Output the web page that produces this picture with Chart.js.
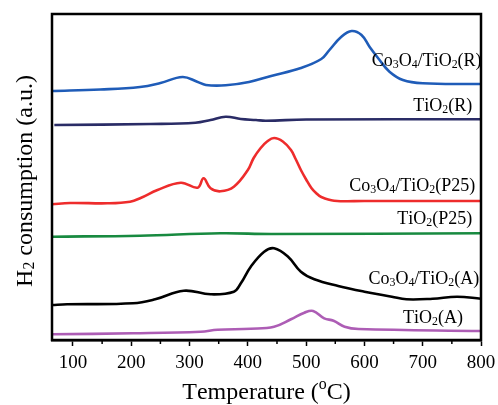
<!DOCTYPE html>
<html>
<head>
<meta charset="utf-8">
<script src="https://cdn.jsdelivr.net/npm/chart.js@4/dist/chart.umd.min.js"></script>
<style>
  body { margin: 0; background: #fff; }
  canvas { display: block; }
</style>
</head>
<body>
<canvas id="tpr" width="498" height="405"></canvas>
<script>
// tick values on the temperature axis
const majorTicks = [100, 200, 300, 400, 500, 600, 700, 800];
const minorTicks = [150, 250, 350, 450, 550, 650, 750];

// Co3O4/TiO2(R)
const tCoR = [64, 147, 215, 250, 288, 313, 328, 362, 402, 440, 491, 526, 540, 560, 578, 595, 609, 626, 643, 666, 700, 800];
const vCoR = [249, 250.5, 253, 257, 263, 258.3, 255, 254.7, 258, 264, 272, 281, 290, 303, 309, 305, 293, 280, 268.3, 260, 256.7, 256];
// TiO2(R)
const tTiR = [68, 233, 310, 336, 362, 388, 414, 431, 500, 800];
const vTiR = [215, 216, 217.3, 220, 223.3, 221, 220, 219.3, 220.5, 220.7];
// Co3O4/TiO2(P25)
const tCoP = [64, 95, 159, 198, 216, 245, 285, 314, 324, 336, 353, 376, 400, 410, 422, 433, 445, 460, 474, 482, 491, 500, 509, 517, 526, 548, 600, 800];
const vCoP = [135.7, 137, 136.7, 138.3, 142, 150, 157.3, 152.3, 161.7, 151.7, 148.7, 153.3, 170, 182, 192, 198.5, 202, 198.5, 190, 181, 170, 160.5, 152, 147, 143, 139.3, 139, 139];
// TiO2(P25)
const tTiP = [64, 215, 353, 440, 800];
const vTiP = [103.3, 104.3, 106.7, 106, 106.7];
// Co3O4/TiO2(A)
const tCoA = [64, 90, 203, 241, 290, 336, 376, 388, 405, 428, 445, 469, 491, 514, 555, 600, 647, 672, 717, 759, 800];
const vCoA = [35, 35.7, 36.7, 40.7, 49.3, 45.7, 48.3, 56.7, 73.3, 88.3, 91.7, 83.3, 68.3, 60.7, 54, 48.3, 43.3, 40.7, 41.3, 43.3, 41.3];
// TiO2(A)
const tTiA = [64, 203, 319, 348, 405, 445, 474, 497, 512, 531, 547, 566, 590, 800];
const vTiA = [5.7, 6.7, 8.3, 10.2, 11.3, 13.3, 20.7, 27.3, 29, 21.7, 19.3, 13.3, 11, 9];

const seriesNames = ['Co_3O_4/TiO_2(R)', 'TiO_2(R)', 'Co_3O_4/TiO_2(P25)', 'TiO_2(P25)', 'Co_3O_4/TiO_2(A)', 'TiO_2(A)'];

// where each name is written (right end, vertical middle) in data units
const labelSpots = [[801, 280], [785, 235], [790, 155], [785, 122], [797, 62], [769, 23]];
const colors = ['#1f5cb8', '#2a2c66', '#ee2c2c', '#188a40', '#000000', '#ad5db5'];

const SERIF = '"Liberation Serif", "DejaVu Serif", serif';

function pts(t, v) { return t.map((x, i) => ({ x: x, y: v[i] })); }

// text with _x subscript and ^x superscript
function drawRich(ctx, str, x, y, size, align) {
    const segs = [];
    for (let i = 0; i < str.length; i++) {
        const c = str[i];
        if ((c === '_' || c === '^') && i + 1 < str.length) {
            segs.push({ t: str[i + 1], mode: c });
            i++;
        } else {
            segs.push({ t: c, mode: '' });
        }
    }
    let w = 0;
    segs.forEach(s => {
        const sz = s.mode ? size * 0.66 : size;
        ctx.font = sz + 'px ' + SERIF;
        s.w = ctx.measureText(s.t).width;
        s.sz = sz;
        w += s.w;
    });
    let cx = align === 'right' ? x - w : align === 'center' ? x - w / 2 : x;
    ctx.textBaseline = 'alphabetic';
    ctx.textAlign = 'left';
    segs.forEach(s => {
        ctx.font = s.sz + 'px ' + SERIF;
        let dy = 0;
        if (s.mode === '_') dy = size * 0.1;
        if (s.mode === '^') dy = -size * 0.42;
        ctx.fillText(s.t, cx, y + dy);
        cx += s.w;
    });
}

const decor = {
    id: 'decor',
    afterDraw(chart) {
        const ctx = chart.ctx;
        const a = chart.chartArea;
        const xs = chart.scales.x;
        const ys = chart.scales.y;
        ctx.save();
        ctx.strokeStyle = '#000';
        ctx.lineWidth = 2.5;
        ctx.strokeRect(a.left, a.top, a.right - a.left, a.bottom - a.top);
        ctx.lineWidth = 1.5;
        minorTicks.forEach(v => {
            const px = xs.getPixelForValue(v);
            ctx.beginPath();
            ctx.moveTo(px, a.bottom);
            ctx.lineTo(px, a.bottom + 4);
            ctx.stroke();
        });
        ctx.fillStyle = '#000';
        seriesNames.forEach((n, i) => {
            const px = xs.getPixelForValue(labelSpots[i][0]);
            const py = ys.getPixelForValue(labelSpots[i][1]);
            drawRich(ctx, n, px, py + 6, 18, 'right');
        });
        drawRich(ctx, 'Temperature (^oC)', (a.left + a.right) / 2, 399, 24, 'center');
        ctx.translate(32, 181);
        ctx.rotate(-Math.PI / 2);
        drawRich(ctx, 'H_2 consumption (a.u.)', 0, 0, 24, 'center');
        ctx.restore();
    }
};

const sets = [[tCoR, vCoR], [tTiR, vTiR], [tCoP, vCoP], [tTiP, vTiP], [tCoA, vCoA], [tTiA, vTiA]];

new Chart(document.getElementById('tpr'), {
    type: 'line',
    data: {
        datasets: sets.map((s, i) => ({
            label: seriesNames[i],
            data: pts(s[0], s[1]),
            borderColor: colors[i],
            borderWidth: 2.6,
            pointRadius: 0,
            tension: 0.4,
            fill: false
        }))
    },
    options: {
        responsive: false,
        animation: false,
        layout: { padding: { left: 52, top: 14, right: 17, bottom: 0 } },
        plugins: { legend: { display: false }, tooltip: { enabled: false } },
        scales: {
            x: {
                type: 'linear',
                min: 64,
                max: 800,
                afterBuildTicks: s => { s.ticks = majorTicks.map(v => ({ value: v })); },
                afterFit: s => { s.height = 65; s.paddingLeft = 0; s.paddingRight = 0; },
                grid: { drawOnChartArea: false, tickLength: 6, color: '#000', tickWidth: 1.5 },
                border: { color: '#000', width: 2.5 },
                ticks: { color: '#000', font: { family: SERIF, size: 19 }, padding: 6, maxRotation: 0 }
            },
            y: {
                display: false,
                min: 0,
                max: 326
            }
        }
    },
    plugins: [decor]
});
</script>
</body>
</html>
